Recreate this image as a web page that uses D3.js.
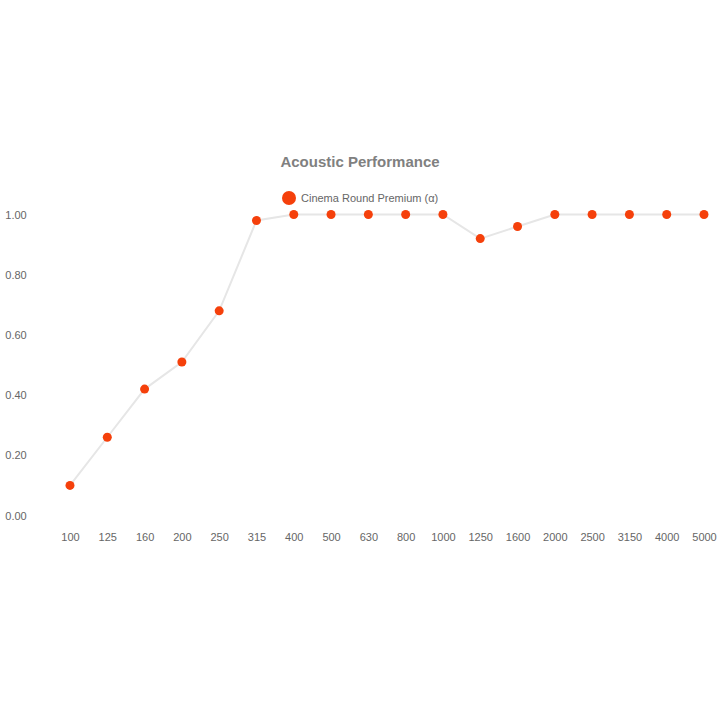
<!DOCTYPE html>
<html><head><meta charset="utf-8">
<script src="https://cdn.jsdelivr.net/npm/d3@7"></script>
<style>body{margin:0;background:#fff;}svg{display:block;font-family:"Liberation Sans",Arial,Helvetica,sans-serif;}</style>
</head><body>
<svg id="c" width="720" height="720"></svg>
<script>
const categories = ["100","125","160","200","250","315","400","500","630","800","1000","1250","1600","2000","2500","3150","4000","5000"];
const values = [0.10,0.26,0.42,0.51,0.68,0.98,1.00,1.00,1.00,1.00,1.00,0.92,0.96,1.00,1.00,1.00,1.00,1.00];
const yTicks = [0,0.2,0.4,0.6,0.8,1.0];
const seriesName = "Cinema Round Premium (\u03b1)";
const title = "Acoustic Performance";

const svg = d3.select("#c");
const color = "#f5400b";
const x = d3.scalePoint().domain(categories).range([70,704]);
const y = d3.scaleLinear().domain([0,1]).range([515.5,214.5]);

svg.append("text").attr("x",360).attr("y",167).attr("text-anchor","middle")
  .attr("font-size",15).attr("font-weight","bold").attr("fill","#808080").text(title);

const lg = svg.append("g");
lg.append("circle").attr("cx",289).attr("cy",198).attr("r",7).attr("fill",color);
lg.append("text").attr("x",301).attr("y",202).attr("font-size",11).attr("fill","#666").text(seriesName);

const yAxis = d3.axisLeft(y).tickValues(yTicks).tickFormat(d3.format(".2f")).tickSize(0).tickPadding(0);
const ya = svg.append("g").attr("transform","translate(16,0)").call(yAxis);
ya.select(".domain").remove();
ya.selectAll("text").attr("font-size",11).attr("fill","#666").attr("font-family","Liberation Sans,Arial,sans-serif").attr("text-anchor","middle");

const xAxis = d3.axisBottom(x).tickSize(0).tickPadding(0);
const xa = svg.append("g").attr("transform","translate(0,533)").call(xAxis);
xa.select(".domain").remove();
xa.selectAll("text").attr("font-size",11).attr("fill","#666").attr("font-family","Liberation Sans,Arial,sans-serif");

const data = categories.map((c,i)=>({c,v:values[i]}));
svg.append("path").datum(data).attr("fill","none").attr("stroke","#e6e6e6").attr("stroke-width",2)
  .attr("d", d3.line().x(d=>x(d.c)).y(d=>y(d.v)));
svg.append("g").selectAll("circle").data(data).join("circle")
  .attr("cx",d=>x(d.c)).attr("cy",d=>y(d.v)).attr("r",4.5).attr("fill",color);
</script>
</body></html>
